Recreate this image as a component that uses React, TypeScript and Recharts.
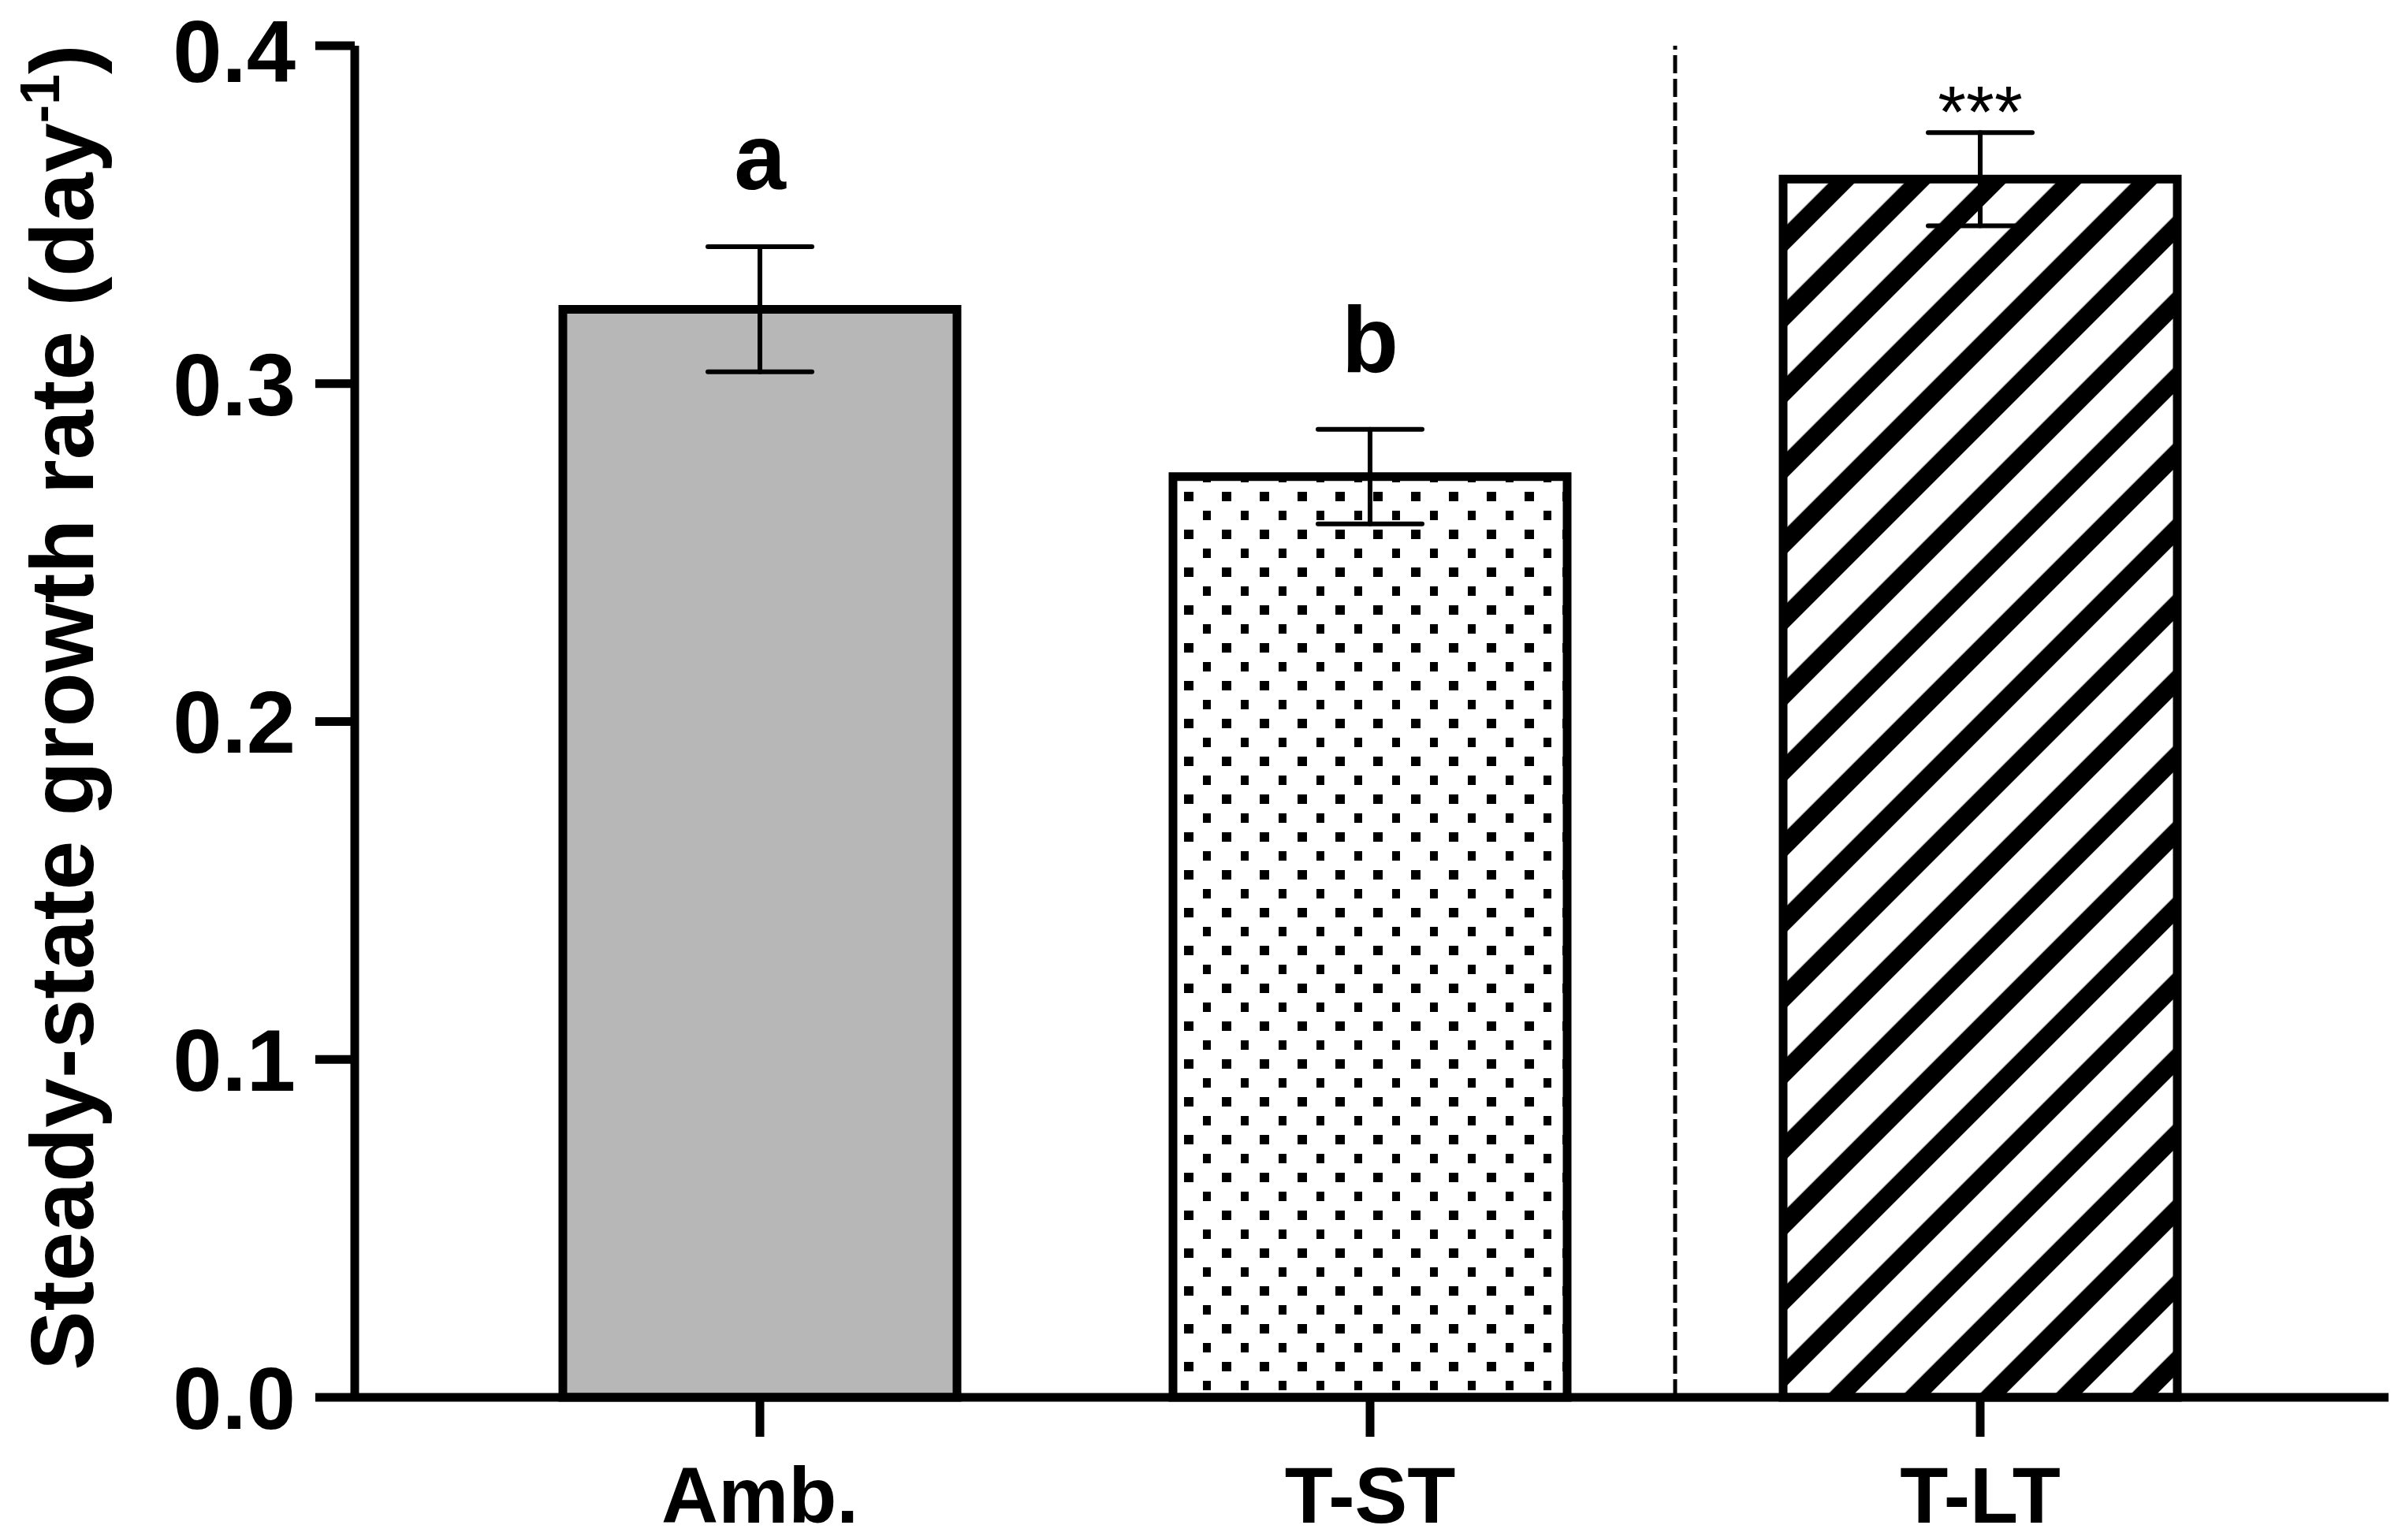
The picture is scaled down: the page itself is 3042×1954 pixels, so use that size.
import { BarChart, Bar, XAxis, YAxis, Cell, ErrorBar, ReferenceLine, ReferenceDot } from "recharts";

const categories = ["Amb.", "T-ST", "T-LT"];
const means = [0.322, 0.2725, 0.3605];
const errors = [0.0185, 0.014, 0.0138];
const sigLabels = ["a", "b", "***"];
const yTicks = [0, 0.1, 0.2, 0.3, 0.4];

const data = categories.map((name, i) => ({ name, mean: means[i], err: errors[i] }));

const FONT = "'Liberation Sans', Arial, sans-serif";
const barFills = ["#b8b7b8", "url(#dots)", "url(#stripes)"];

function YTitle({ viewBox }: any) {
  const cx = viewBox.x + 118;
  const cy = viewBox.y + viewBox.height / 2 - 18;
  return (
    <text
      x={cx}
      y={cy}
      transform={`rotate(-90, ${cx}, ${cy})`}
      textAnchor="middle"
      fontSize={113}
      fontWeight={700}
      fontFamily={FONT}
      fill="#000"
    >
      Steady-state growth rate (day
      <tspan fontSize={70} dy={-43}>-1</tspan>
      <tspan dy={43}>)</tspan>
    </text>
  );
}

// letters sit above the error cap, asterisks hug it
function sigLabel(text: string) {
  const stars = text.includes("*");
  return ({ viewBox }: any) => (
    <text
      x={viewBox.x + viewBox.width / 2}
      y={viewBox.y + viewBox.height / 2 + (stars ? 6 : -73)}
      textAnchor="middle"
      fontSize={stars ? 92 : 118}
      fontWeight={stars ? 400 : 700}
      fontFamily={FONT}
      fill="#000"
    >
      {text}
    </text>
  );
}

export default function App() {
  return (
    <div style={{ position: "absolute", left: 0, top: 0, background: "#fff" }}>
      <BarChart
        width={3042}
        height={1954}
        data={data}
        margin={{ top: 58, right: 12, bottom: 0, left: 0 }}
        style={{ fontFamily: FONT }}
      >
        <defs>
          <pattern id="dots" patternUnits="userSpaceOnUse" width={48} height={48}>
            <rect x={14} y={0} width={12} height={12} fill="#000" />
            <rect x={38} y={24} width={12} height={12} fill="#000" />
          </pattern>
          <pattern
            id="stripes"
            patternUnits="userSpaceOnUse"
            width={67.88}
            height={67.88}
            patternTransform="rotate(45)"
          >
            <rect x={0} y={0} width={67.88} height={67.88} fill="#fff" />
            <rect x={39.6} y={0} width={23.3} height={67.88} fill="#000" />
          </pattern>
        </defs>
        <XAxis
          dataKey="name"
          height={181}
          padding={{ left: 127, right: 131 }}
          axisLine={{ stroke: "#000", strokeWidth: 11 }}
          tickLine={{ stroke: "#000", strokeWidth: 11 }}
          tickSize={50}
          tickMargin={38}
          tick={{ fontSize: 100, fontWeight: 700, fill: "#000", fontFamily: FONT }}
        />
        <YAxis
          width={450}
          domain={[0, 0.4]}
          ticks={yTicks}
          tickFormatter={(v: number) => v.toFixed(1)}
          axisLine={{ stroke: "#000", strokeWidth: 11 }}
          tickLine={{ stroke: "#000", strokeWidth: 11 }}
          tickSize={50}
          tickMargin={25}
          tick={{ fontSize: 112, fontWeight: 700, fill: "#000", fontFamily: FONT }}
          label={<YTitle />}
        />
        <ReferenceLine
          x="T-LT"
          position="start"
          stroke="#000"
          strokeWidth={5}
          strokeDasharray="23 7"
        />
        <Bar dataKey="mean" barSize={500} stroke="#000" strokeWidth={11} isAnimationActive={false}>
          {data.map((d, i) => (
            <Cell key={d.name} fill={barFills[i]} />
          ))}
          <ErrorBar
            dataKey="err"
            width={66}
            stroke="#000"
            strokeWidth={6}
            strokeLinecap="round"
            isAnimationActive={false}
          />
        </Bar>
        {categories.map((c, i) => (
          <ReferenceDot
            key={c}
            x={c}
            y={means[i] + errors[i]}
            r={0}
            fill="none"
            stroke="none"
            label={sigLabel(sigLabels[i])}
          />
        ))}
      </BarChart>
    </div>
  );
}
